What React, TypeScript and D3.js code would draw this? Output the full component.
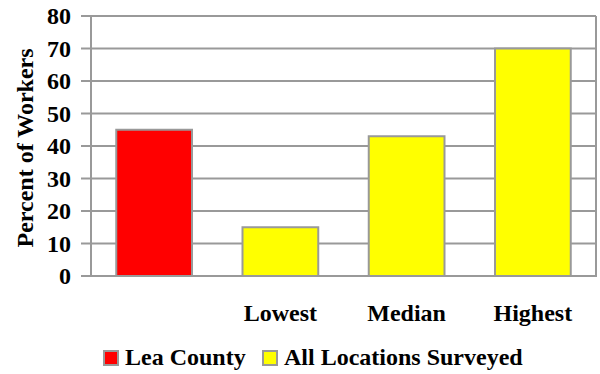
import React from "react";
import * as d3 from "d3";

const categories = ["", "Lowest", "Median", "Highest"];
const values = [45, 15, 43, 70];
const seriesOf = ["Lea County", "All Locations Surveyed", "All Locations Surveyed", "All Locations Surveyed"];
const seriesNames = ["Lea County", "All Locations Surveyed"];
const seriesColors = ["#ff0000", "#ffff00"];
const yTicks = [0, 10, 20, 30, 40, 50, 60, 70, 80];

const W = 600;
const H = 374;
const plot = { left: 91, right: 596, top: 16, bottom: 276 };
const FONT = "'Liberation Serif', 'Times New Roman', serif";
const GRID = "#999999";

export default function App() {
  const x = d3
    .scaleBand<string>()
    .domain(categories.map((c, i) => `${i}`))
    .range([plot.left, plot.right])
    .paddingInner(0.4)
    .paddingOuter(0.2);
  const y = d3.scaleLinear().domain([0, 80]).range([plot.bottom, plot.top]);
  const color = d3.scaleOrdinal<string, string>().domain(seriesNames).range(seriesColors);

  const legendX = [103, 262];

  return (
    <svg
      width={W}
      height={H}
      style={{ position: "absolute", left: 0, top: 0, background: "#fff" }}
      fontFamily={FONT}
      fontWeight="bold"
    >
      {/* gridlines and tick marks */}
      {yTicks.map((t) => (
        <g key={t}>
          <line x1={plot.left - 10} x2={plot.right} y1={y(t)} y2={y(t)} stroke={GRID} strokeWidth={2} />
          <text x={71} y={y(t) + 8} textAnchor="end" fontSize={24} fill="#000">
            {t}
          </text>
        </g>
      ))}
      {/* plot frame */}
      <line x1={plot.left} x2={plot.left} y1={plot.top} y2={plot.bottom + 1} stroke={GRID} strokeWidth={2} />
      <line x1={plot.right} x2={plot.right} y1={plot.top} y2={plot.bottom + 1} stroke={GRID} strokeWidth={2} />

      {/* bars */}
      {values.map((v, i) => (
        <rect
          key={i}
          x={x(`${i}`)!}
          y={y(v)}
          width={x.bandwidth()}
          height={y(0) - y(v)}
          fill={color(seriesOf[i])}
          stroke={GRID}
          strokeWidth={2}
        />
      ))}

      {/* category labels */}
      {categories.map((c, i) => (
        <text key={i} x={x(`${i}`)! + x.bandwidth() / 2} y={321} textAnchor="middle" fontSize={24} fill="#000">
          {c}
        </text>
      ))}

      {/* y axis title */}
      <text
        transform={`translate(33, 148) rotate(-90)`}
        textAnchor="middle"
        fontSize={24}
        fill="#000"
      >
        Percent of Workers
      </text>

      {/* legend */}
      {seriesNames.map((s, i) => (
        <g key={s}>
          <rect x={legendX[i] + 1} y={351} width={14} height={14} fill={color(s)} stroke={GRID} strokeWidth={2} />
          <text x={legendX[i] + 22} y={365} fontSize={24} fill="#000">
            {s}
          </text>
        </g>
      ))}
    </svg>
  );
}
